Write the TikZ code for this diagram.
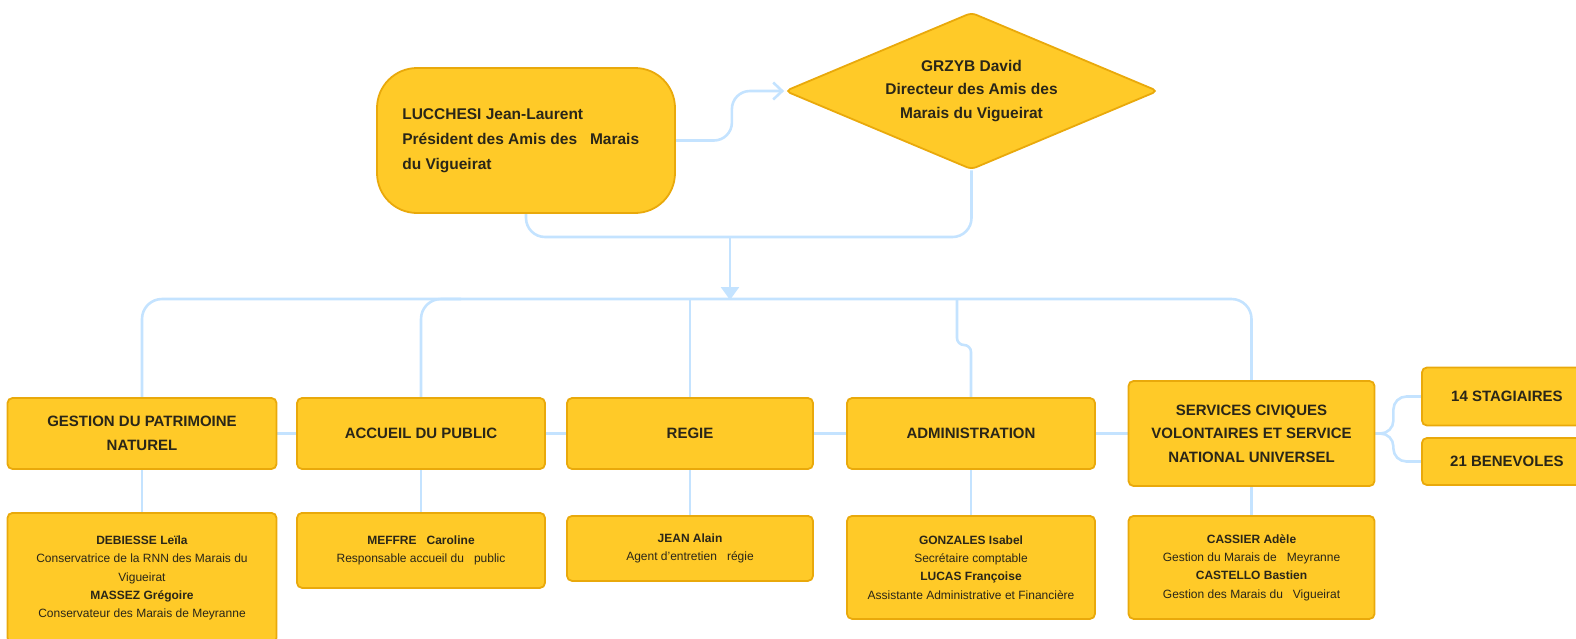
\documentclass[tikz,border=0pt]{standalone}
\usepackage{fontspec}
\setmainfont{Liberation Sans}
\usetikzlibrary{shapes.geometric,arrows.meta,backgrounds}
\definecolor{boxfill}{HTML}{FFCA28}
\definecolor{boxline}{HTML}{E9A90B}
\definecolor{linkc}{HTML}{C4E3FF}
\definecolor{textc}{HTML}{2A2618}
\tikzset{
  box/.style={draw=boxline, fill=boxfill, line width=1.8pt, rounded corners=5pt,
    align=center, inner sep=0pt, text=textc,
    font=\bfseries\fontsize{15}{24}\selectfont},
  headbox/.style={box, minimum width=246pt, minimum height=71pt},
  pbox/.style={box, anchor=north, minimum width=246pt,
    font=\fontsize{12}{18.3}\selectfont},
  link/.style={draw=linkc, line width=2.6pt},
}
\begin{document}
\begin{tikzpicture}[x=1pt,y=-1pt]
\useasboundingbox (0,0) rectangle (1576,638);

% top level
\node[box, rounded corners=40pt, minimum width=298pt, minimum height=145pt] (pres) at (526,140.5) {};
\node[anchor=west, align=left, inner sep=0pt, text=textc,
  font=\bfseries\fontsize{15.5}{25}\selectfont] (prestxt) at ([xshift=26pt]pres.west)
  {LUCCHESI Jean-Laurent\\Président des Amis des~~~Marais\\du Vigueirat};
\node[box, diamond, shape aspect=2.4, rounded corners=5pt, minimum width=373pt, minimum height=157pt,
  font=\bfseries\fontsize{15.5}{23.6}\selectfont] (dir) at (971.5,91)
  {GRZYB David\\Directeur des Amis des\\Marais du Vigueirat};

% level 2
\node[headbox, minimum width=269pt] (gest) at (142,433.5) {GESTION DU PATRIMOINE\\NATUREL};
\node[headbox, minimum width=248pt] (acc) at (421,433.5) {ACCUEIL DU PUBLIC};
\node[headbox] (reg) at (690,433.5) {REGIE};
\node[headbox, minimum width=248pt] (adm) at (971,433.5) {ADMINISTRATION};
\node[headbox, minimum height=105pt, font=\bfseries\fontsize{15}{23.6}\selectfont] (serv) at (1251.5,433.5)
  {SERVICES CIVIQUES\\VOLONTAIRES ET SERVICE\\NATIONAL UNIVERSEL};
\node[box, anchor=west, minimum width=170pt, minimum height=58pt] (stag) at (1421,396.5) {14 STAGIAIRES};
\node[box, anchor=west, minimum width=170pt, minimum height=47pt] (ben) at (1421,461.5) {21 BENEVOLES};

% level 3
\node[pbox, minimum width=269pt, minimum height=130pt] (deb) at (142,512)
  {\textbf{DEBIESSE Leïla}\\Conservatrice de la RNN des Marais du\\Vigueirat\\\textbf{MASSEZ Grégoire}\\Conservateur des Marais de Meyranne};
\node[pbox, minimum width=248pt, minimum height=75pt] (mef) at (421,512)
  {\textbf{MEFFRE~~~Caroline}\\Responsable accueil du~~~public};
\node[pbox, minimum height=65pt] (jean) at (690,515)
  {\textbf{JEAN Alain}\\Agent d'entretien~~~régie};
\node[pbox, minimum width=248pt, minimum height=103pt] (gonz) at (971,515)
  {\textbf{GONZALES Isabel}\\Secrétaire comptable\\\textbf{LUCAS Françoise}\\Assistante Administrative et Financière};
\node[pbox, minimum height=103pt] (cass) at (1251.5,515)
  {\textbf{CASSIER Adèle}\\Gestion du Marais de~~~Meyranne\\\textbf{CASTELLO Bastien}\\Gestion des Marais du~~~Vigueirat};

\coordinate (join) at (730,237);
\coordinate (bus) at (730,299);
\coordinate (jog) at (957,345);

\begin{scope}[on background layer]
  \draw[link, rounded corners=18pt, -{Straight Barb[length=9pt,width=17pt,line width=2.6pt]}]
    (pres.east) -- ++(56,0) |- (dir.west);
  \draw[link, rounded corners=19pt] (pres.south) -- (pres.south |- join) -- (dir.south |- join) -- (dir.south);
  \draw[link, -{Triangle[length=13pt,width=18pt]}] (join) -- ([yshift=-1pt]bus);
  \draw[link, rounded corners=20pt] (gest.north) -- (gest.north |- bus) -- (serv.north |- bus) -- (serv.north);
  \draw[link, rounded corners=20pt] (acc.north) -- (acc.north |- bus) -- ([xshift=40pt]acc.north |- bus);
  \draw[link] (reg.north |- bus) -- (reg.north);
  \draw[link, rounded corners=7pt] (jog |- bus) -- (jog) -- (jog -| adm.north) -- (adm.north);
  \draw[link] (gest.east) -- (acc.west);
  \draw[link] (acc.east) -- (reg.west);
  \draw[link] (reg.east) -- (adm.west);
  \draw[link] (adm.east) -- (serv.west);
  \draw[link, rounded corners=13pt] (serv.east) -- ++(18,0) |- (stag.west);
  \draw[link, rounded corners=13pt] (serv.east) -- ++(18,0) |- (ben.west);
  \draw[link] (gest.south) -- (deb.north);
  \draw[link] (acc.south) -- (mef.north);
  \draw[link] (reg.south) -- (jean.north);
  \draw[link] (adm.south) -- (gonz.north);
  \draw[link] (serv.south) -- (cass.north);
\end{scope}
\end{tikzpicture}
\end{document}
